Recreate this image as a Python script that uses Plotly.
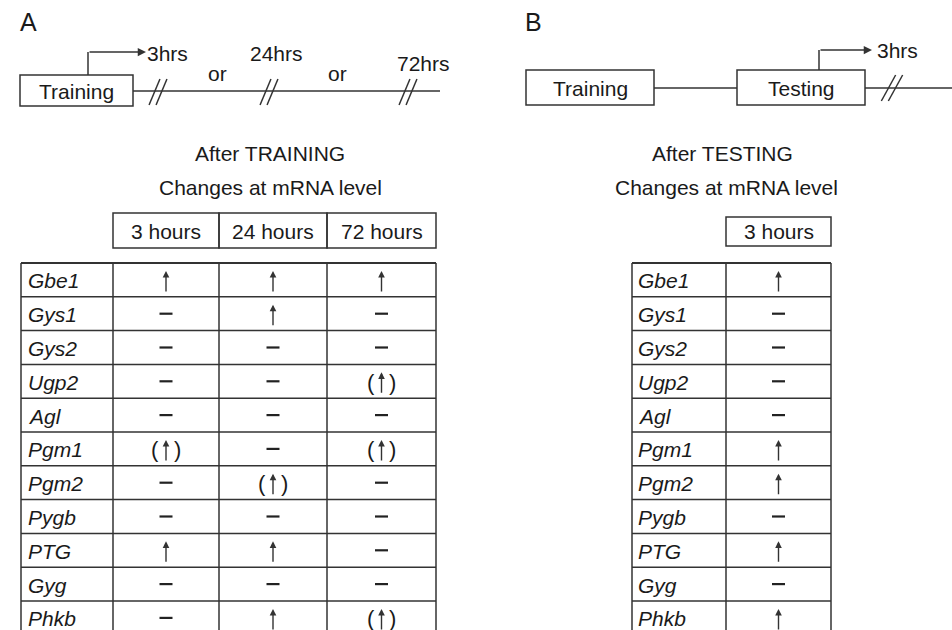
import plotly.graph_objects as go

# ---------------- data ----------------
genes = ["Gbe1", "Gys1", "Gys2", "Ugp2", "Agl", "Pgm1", "Pgm2", "Pygb", "PTG", "Gyg", "Phkb"]
train_periods = ["3 hours", "24 hours", "72 hours"]
train_3h = ["up", "none", "none", "none", "none", "(up)", "none", "none", "up", "none", "none"]
train_24h = ["up", "up", "none", "none", "none", "none", "(up)", "none", "up", "none", "up"]
train_72h = ["up", "none", "none", "(up)", "none", "(up)", "none", "none", "none", "none", "(up)"]
test_periods = ["3 hours"]
test_3h = ["up", "none", "none", "none", "none", "up", "up", "none", "up", "none", "up"]
timeline_a = ["3hrs", "24hrs", "72hrs"]
timeline_b = ["3hrs"]

# ---------------- layout constants ----------------
W, H = 952, 630
FONT = "Liberation Sans, Arial, sans-serif"
TXT = "#1a1a1a"
LINE = "#333333"
FS = 21
ROW_TOP = 263
ROW_H = 33.8
BOTTOM = 640

shapes = []
ann = []


def line(x0, y0, x1, y1, w=1.5, c=LINE):
    shapes.append(dict(type="line", x0=x0, y0=y0, x1=x1, y1=y1,
                       line=dict(color=c, width=w), xref="x", yref="y"))


def rect(x0, y0, x1, y1, w=1.5):
    shapes.append(dict(type="rect", x0=x0, y0=y0, x1=x1, y1=y1,
                       line=dict(color=LINE, width=w), fillcolor="rgba(0,0,0,0)",
                       xref="x", yref="y"))


def text(x, y, s, size=FS, xanchor="center", italic=False, color=TXT):
    ann.append(dict(x=x, y=y, text=(f"<i>{s}</i>" if italic else s), showarrow=False,
                    xanchor=xanchor, yanchor="middle", xref="x", yref="y",
                    font=dict(family=FONT, size=size, color=color)))


def arrow(x0, y0, x1, y1, size=1.1, head=2, width=1.5):
    ann.append(dict(x=x1, y=y1, ax=x0, ay=y0, axref="x", ayref="y", xref="x", yref="y",
                    text="", showarrow=True, arrowhead=head, arrowsize=size, arrowwidth=width,
                    arrowcolor=LINE, standoff=0, startstandoff=0))


def breakmark(xc, yc, half=13, slope=0.42, gap=7):
    for dx in (-gap / 2, gap / 2):
        line(xc + dx - half * slope, yc + half, xc + dx + half * slope, yc - half, w=1.5)


def symbol(xc, yc, kind):
    if kind == "none":
        line(xc - 6.5, yc, xc + 6.5, yc, w=2.2, c="#222222")
    else:
        arrow(xc, yc + 13, xc, yc - 9, size=0.95, head=2, width=1.4)
        if kind == "(up)":
            text(xc - 11, yc + 1, "(", size=22)
            text(xc + 11, yc + 1, ")", size=22)


# ---------------- panel A timeline ----------------
text(28, 22, "A", size=25)
rect(20, 75, 133, 106)
text(76.5, 91.5, "Training")
line(133, 91, 440, 91)
line(88, 75, 88, 52)
arrow(88, 52, 146, 52)
break_x_a = [158, 269, 408]
label_x_a = [167, 276, 423]
label_y_a = [53, 53, 63]
for bx, lx, ly, lab in zip(break_x_a, label_x_a, label_y_a, timeline_a):
    breakmark(bx, 92)
    text(lx, ly, lab)
text(217, 73, "or")
text(337, 73, "or")

# ---------------- panel B timeline ----------------
text(533, 22, "B", size=25)
rect(526, 70, 654, 105)
text(590, 88, "Training")
line(654, 88, 737, 88)
rect(737, 70, 865, 105)
text(801, 88, "Testing")
line(865, 88, 952, 88)
line(819, 70, 819, 50)
arrow(819, 50, 872, 50)
text(897, 50, timeline_b[0])
breakmark(892, 88, half=13, slope=0.55)

# ---------------- panel A table ----------------
text(270, 153, "After TRAINING")
text(270, 187, "Changes at mRNA level")
col_edges_a = [21, 113, 219, 327, 436]
for j, per in enumerate(train_periods):
    rect(col_edges_a[j + 1], 213, col_edges_a[j + 2], 248)
    text((col_edges_a[j + 1] + col_edges_a[j + 2]) / 2, 231, per)

train_cols = [train_3h, train_24h, train_72h]
for i, g in enumerate(genes):
    yt = ROW_TOP + i * ROW_H
    line(col_edges_a[0], yt, col_edges_a[-1], yt, w=2 if i == 0 else 1.5)
    yc = yt + ROW_H / 2
    text(col_edges_a[0] + 5, yc + 1, g, xanchor="left", italic=True)
    for j, col in enumerate(train_cols):
        xc = (col_edges_a[j + 1] + col_edges_a[j + 2]) / 2
        symbol(xc, yc, col[i])
for x in col_edges_a:
    line(x, ROW_TOP, x, BOTTOM)

# ---------------- panel B table ----------------
text(722, 153, "After TESTING")
text(726, 187, "Changes at mRNA level")
col_edges_b = [632, 726, 831]
for j, per in enumerate(test_periods):
    rect(col_edges_b[j + 1], 217, col_edges_b[j + 2], 246)
    text((col_edges_b[j + 1] + col_edges_b[j + 2]) / 2, 231.5, per)

for i, g in enumerate(genes):
    yt = ROW_TOP + i * ROW_H
    line(col_edges_b[0], yt, col_edges_b[-1], yt, w=2 if i == 0 else 1.5)
    yc = yt + ROW_H / 2
    text(col_edges_b[0] + 4, yc + 1, g, xanchor="left", italic=True)
    xc = (col_edges_b[1] + col_edges_b[2]) / 2
    symbol(xc, yc, test_3h[i])
for x in col_edges_b:
    line(x, ROW_TOP, x, BOTTOM)

fig = go.Figure()
fig.update_layout(
    width=W, height=H, margin=dict(l=0, r=0, t=0, b=0),
    paper_bgcolor="white", plot_bgcolor="white",
    xaxis=dict(range=[0, W], visible=False, fixedrange=True),
    yaxis=dict(range=[H, 0], visible=False, fixedrange=True),
    shapes=shapes, annotations=ann, showlegend=False,
)
fig.write_html("out.html", config={"displayModeBar": False},
               post_script="document.body.style.margin='0';document.body.style.padding='0';")
